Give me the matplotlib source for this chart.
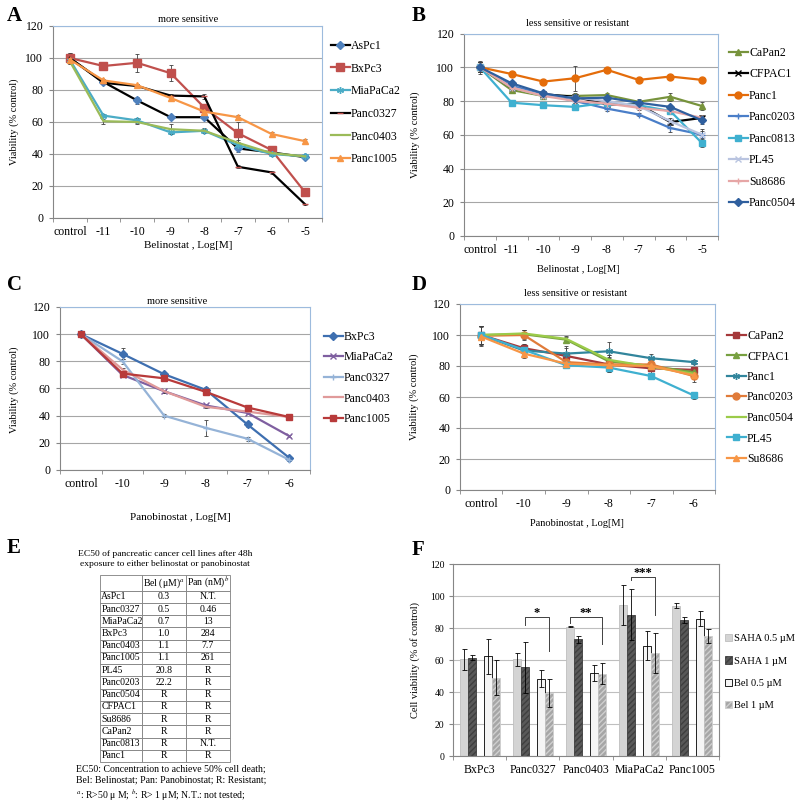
"""Six-panel HDAC inhibitor viability figure (A-D curves, E EC50 table, F bars)."""

import matplotlib
matplotlib.use("Agg")
import matplotlib.pyplot as plt
import numpy as np

plt.rcParams["font.family"] = ["Liberation Serif", "DejaVu Serif"]
plt.rcParams["mathtext.fontset"] = "stix"

W, H = 800, 807

# ---- Panel A: belinostat, more sensitive ----
bel_doses = ["control", "-11", "-10", "-9", "-8", "-7", "-6", "-5"]
a_names = ["AsPc1", "BxPc3", "MiaPaCa2", "Panc0327", "Panc0403", "Panc1005"]
a_values = [
    [100, 85, 73.5, 63, 63, 43.5, 41, 38],
    [100, 95, 97, 90.5, 69, 53, 42.5, 16],
    [99, 64, 61, 53.5, 54.5, 45.5, 40, 38.5],
    [100, 84.5, 82.5, 76.5, 76, 32, 28.5, 8.5],
    [98, 60.5, 60, 55.5, 54.5, 47, 40.5, 38.5],
    [99, 86, 83, 75, 66.5, 63, 52.5, 48],
]
a_errors = [
    [3, 1.5, 2, 1, 1, 2, 1, 1],
    [2, 1.5, 5.5, 5, 2, 7, 1.5, 2.5],
    [2, 1, 1.5, 1, 1, 2, 1, 1],
    [3, 1, 1, 1, 1.5, 1, 1, 0.5],
    [2, 1.5, 1.5, 3, 1.5, 1.5, 1, 1],
    [3, 1, 1, 1.5, 1, 1.5, 1, 1.5],
]

# ---- Panel B: belinostat, less sensitive or resistant ----
b_names = ["CaPan2", "CFPAC1", "Panc1", "Panc0203", "Panc0813", "PL45", "Su8686", "Panc0504"]
b_values = [
    [100, 86.5, 83, 83, 83.5, 79.5, 82.5, 77],
    [100, 88, 84, 82.5, 78, 78, 67.5, 70],
    [100, 96, 91.5, 93.5, 98.5, 92.5, 94.5, 92.5],
    [100, 89, 84, 80, 75.5, 72, 64, 60],
    [100, 79, 77.5, 76.5, 79, 77.5, 74, 55],
    [100, 88, 83, 82, 80, 77, 68, 60],
    [100, 88, 83, 80, 78.5, 76, 74, 70],
    [100, 90.5, 84.5, 81.5, 82, 79, 76.5, 68.5],
]
b_errors = [
    [3, 1.5, 1.5, 1.5, 1.5, 1.5, 2.5, 2.5],
    [3, 1, 1, 1, 1, 1, 1.5, 1],
    [4, 1, 1, 7.5, 1.5, 1, 1, 1],
    [3, 1, 1, 1, 1.5, 1, 2.5, 2],
    [3, 1, 1, 1, 1, 1, 1.5, 2.5],
    [3, 1, 1, 2, 1, 1, 2, 3.5],
    [3, 1, 1, 1, 1, 1.5, 1, 1.5],
    [3, 1, 1, 1, 1, 1, 1, 2],
]

# ---- Panel C: panobinostat, more sensitive ----
pan_doses = ["control", "-10", "-9", "-8", "-7", "-6"]
c_names = ["BxPc3", "MiaPaCa2", "Panc0327", "Panc0403", "Panc1005"]
c_values = [
    [100, 85.5, 70.5, 59, 33.5, 9],
    [100, 70, 58, 47.5, 42, 25],
    [100, 80, 40, 31, 23, 7.5],
    [100, 74, 58, 46.5, 43, 39],
    [100, 71, 67.5, 57.5, 46, 39],
]
c_errors = [
    [1, 4, 1, 2, 1.5, 1],
    [1, 1, 1, 1, 1, 0.5],
    [1, 2, 1, 6, 1.5, 1],
    [1, 1, 1, 1, 1, 1],
    [1, 1, 1, 1, 1, 1],
]

# ---- Panel D: panobinostat, less sensitive or resistant ----
d_names = ["CaPan2", "CFPAC1", "Panc1", "Panc0203", "Panc0504", "PL45", "Su8686"]
d_values = [
    [100, 91.5, 86.5, 81, 78.5, 77.5],
    [100, 100.5, 97, 83, 80, 76],
    [100, 90, 88, 89.5, 85, 82.5],
    [99.5, 100, 82.5, 81, 81, 73.5],
    [100, 101, 97.5, 84, 79.5, 75],
    [100, 90.5, 80.5, 79, 73.5, 61],
    [99, 88, 81.5, 80.5, 80, 74],
]
d_errors = [
    [6, 3, 5, 5, 3, 2],
    [6, 3, 2, 4, 3, 2],
    [6, 4, 5, 6, 2.5, 1.5],
    [6, 3.5, 4, 4, 3, 4],
    [6, 2, 2, 3, 2, 2],
    [6, 3, 2, 3, 2, 2.5],
    [6, 3, 3, 3, 2, 2],
]

# ---- Panel E: EC50 table ----
e_lines = ["AsPc1", "Panc0327", "MiaPaCa2", "BxPc3", "Panc0403", "Panc1005", "PL45",
           "Panc0203", "Panc0504", "CFPAC1", "Su8686", "CaPan2", "Panc0813", "Panc1"]
e_bel = ["0.3", "0.5", "0.7", "1.0", "1.1", "1.1", "20.8", "22.2", "R", "R", "R", "R", "R", "R"]
e_pan = ["N.T.", "0.46", "13", "284", "7.7", "261", "R", "R", "R", "R", "R", "R", "N.T.", "R"]
e_header = ["", "Bel (μM)$^{a}$", "Pan (nM)$^{b}$"]

# ---- Panel F: SAHA vs belinostat bars ----
f_lines = ["BxPc3", "Panc0327", "Panc0403", "MiaPaCa2", "Panc1005"]
f_labels = ["SAHA 0.5 µM", "SAHA 1 µM", "Bel 0.5 µM", "Bel 1 µM"]
f_values = [
    [60.5, 60.5, 81, 94.5, 94],
    [61.5, 55.5, 73, 88.5, 85],
    [62.5, 48.5, 52, 69, 86],
    [49, 39.5, 51.5, 64.5, 75],
]
f_errors = [
    [6.5, 4, 0.3, 12.5, 1.5],
    [1.5, 16, 2, 16, 2],
    [11, 5.5, 5, 9, 4.5],
    [11, 9, 6.5, 12.5, 4.5],
]
# significance brackets: group, left bar, right bar, top, left foot, right foot, mark
f_sig = [
    (1, 1, 3, 87, 82, 66, "*"),
    (2, 0, 3, 87, 83, 70, "**"),
    (3, 1, 3, 112, 110, 88, "***"),
]


def px_axes(fig, x0, y0, x1, y1):
    return fig.add_axes([x0 / W, 1 - y1 / H, (x1 - x0) / W, (y1 - y0) / H])


def fx(x):
    return x / W


def fy(y):
    return 1 - y / H


def style_excel_axes(ax, ncat):
    ax.set_xlim(-0.5, ncat - 0.5)
    ax.set_ylim(0, 120)
    ax.set_yticks(np.arange(0, 121, 20))
    ax.set_xticks(np.arange(ncat))
    ax.set_xticks(np.arange(ncat + 1) - 0.5, minor=True)
    ax.tick_params(axis="x", which="major", length=0, pad=6, labelsize=8.5)
    ax.tick_params(axis="x", which="minor", length=3, color="#868686")
    ax.tick_params(axis="y", length=3, color="#868686", labelsize=8.5, pad=4)
    ax.grid(axis="y", color="#A6A6A6", linewidth=0.8)
    ax.set_axisbelow(True)
    for side in ("left", "bottom"):
        ax.spines[side].set_color("#868686")
    for side in ("top", "right"):
        ax.spines[side].set_color("#9DBBDD")


def draw_curves(ax, values, errors, names, styles):
    x = np.arange(len(values[0]))
    handles = []
    for vals, errs, name, st in zip(values, errors, names, styles):
        ax.errorbar(x, vals, yerr=errs, fmt="none", ecolor="#404040",
                    elinewidth=0.6, capsize=1.5, capthick=0.6, zorder=2)
        (h,) = ax.plot(x, vals, color=st[0], marker=st[1], markerfacecolor=st[2],
                       markeredgecolor=st[2], markersize=st[3], linewidth=1.6,
                       label=name, zorder=3)
        handles.append(h)
    return handles


def curve_legend(ax, handles, x, y, spacing):
    ax.legend(handles=handles, loc="upper left", bbox_to_anchor=(fx(x), fy(y)),
              bbox_transform=ax.figure.transFigure, frameon=False, fontsize=8.5,
              handlelength=1.6, handletextpad=0.1, borderaxespad=0, borderpad=0,
              labelspacing=spacing, numpoints=1)


asterisk = (6, 2, 0)

fig = plt.figure(figsize=(W / 100, H / 100), dpi=100)

# ---------- A ----------
ax = px_axes(fig, 53, 26, 322, 218)
style_excel_axes(ax, len(bel_doses))
ax.set_xticklabels(bel_doses)
a_styles = [("black", "D", "#4F81BD", 4), ("#C0504D", "s", "#C0504D", 5.5),
            ("#4BACC6", asterisk, "#4BACC6", 5), ("black", "_", "#C0504D", 5),
            ("#9BBB59", "None", "#9BBB59", 4), ("#F79646", "^", "#F79646", 5)]
hs = draw_curves(ax, a_values, a_errors, a_names, a_styles)
curve_legend(ax, hs, 331, 40, 0.9)
fig.text(fx(188), fy(20), "more sensitive", ha="center", va="center", fontsize=7.5)
fig.text(fx(188), fy(246), "Belinostat , Log[M]", ha="center", va="center", fontsize=8)
fig.text(fx(14), fy(122), "Viability (% control)", rotation=90, ha="center", va="center", fontsize=7.5)
fig.text(fx(7), fy(16), "A", ha="left", va="center", fontsize=15, fontweight="bold")

# ---------- B ----------
ax = px_axes(fig, 464, 33.5, 718, 236)
style_excel_axes(ax, len(bel_doses))
ax.set_xticklabels(bel_doses)
b_styles = [("#77933C", "^", "#77933C", 4.5), ("black", "x", "black", 4.5),
            ("#E46C0A", "o", "#E46C0A", 5), ("#4A7EC8", "+", "#4A7EC8", 5),
            ("#3FB0D0", "s", "#3FB0D0", 5), ("#B9C4E0", "x", "#B9C4E0", 4.5),
            ("#E6A6A6", "+", "#E6A6A6", 5), ("#2F5F9E", "D", "#2F5F9E", 4)]
hs = draw_curves(ax, b_values, b_errors, b_names, b_styles)
curve_legend(ax, hs, 729, 47, 0.8)
fig.text(fx(578), fy(24), "less sensitive or resistant", ha="center", va="center", fontsize=7.5)
fig.text(fx(578), fy(270), "Belinostat , Log[M]", ha="center", va="center", fontsize=7.5)
fig.text(fx(415), fy(135), "Viability (% control)", rotation=90, ha="center", va="center", fontsize=7.5)
fig.text(fx(412), fy(16), "B", ha="left", va="center", fontsize=15, fontweight="bold")

# ---------- C ----------
ax = px_axes(fig, 60, 307, 310, 470)
style_excel_axes(ax, len(pan_doses))
ax.set_xticklabels(pan_doses)
c_styles = [("#3E6FB0", "D", "#3E6FB0", 4), ("#7F5FA0", "x", "#7F5FA0", 4.5),
            ("#95B3D7", "+", "#95B3D7", 5), ("#E09A9A", "None", "#E09A9A", 4),
            ("#B83A3A", "s", "#B83A3A", 5)]
hs = draw_curves(ax, c_values, c_errors, c_names, c_styles)
curve_legend(ax, hs, 324, 331, 0.72)
fig.text(fx(177), fy(302), "more sensitive", ha="center", va="center", fontsize=7.5)
fig.text(fx(180), fy(517), "Panobinostat , Log[M]", ha="center", va="center", fontsize=8)
fig.text(fx(14), fy(390), "Viability (% control)", rotation=90, ha="center", va="center", fontsize=7.5)
fig.text(fx(7), fy(285), "C", ha="left", va="center", fontsize=15, fontweight="bold")

# ---------- D ----------
ax = px_axes(fig, 460, 304, 715, 490)
style_excel_axes(ax, len(pan_doses))
ax.set_xticklabels(pan_doses)
d_styles = [("#A5383A", "s", "#A5383A", 4.5), ("#77A040", "^", "#77A040", 4.5),
            ("#31859C", asterisk, "#31859C", 5), ("#E07B39", "o", "#E07B39", 5),
            ("#9BCB49", "None", "#9BCB49", 4), ("#3FB0D0", "s", "#3FB0D0", 5),
            ("#F79646", "^", "#F79646", 5)]
hs = draw_curves(ax, d_values, d_errors, d_names, d_styles)
curve_legend(ax, hs, 727, 330, 0.72)
fig.text(fx(576), fy(294), "less sensitive or resistant", ha="center", va="center", fontsize=7.5)
fig.text(fx(577), fy(523), "Panobinostat , Log[M]", ha="center", va="center", fontsize=7.5)
fig.text(fx(414), fy(397), "Viability (% control)", rotation=90, ha="center", va="center", fontsize=7.5)
fig.text(fx(412), fy(285), "D", ha="left", va="center", fontsize=15, fontweight="bold")

# ---------- E ----------
fig.text(fx(7), fy(548), "E", ha="left", va="center", fontsize=15, fontweight="bold")
fig.text(fx(165), fy(559), "EC50 of pancreatic cancer cell lines after 48h\n"
         "exposure to either belinostat or panobinostat",
         ha="center", va="center", fontsize=6.8, linespacing=1.3)
ax = px_axes(fig, 100, 575, 230, 762)
ax.axis("off")
cell_text = [[n, b, p] for n, b, p in zip(e_lines, e_bel, e_pan)]
tbl = ax.table(cellText=cell_text, colLabels=e_header, colWidths=[41.7, 44, 44.3],
               cellLoc="center", colLoc="center", bbox=[0, 0, 1, 1])
tbl.auto_set_font_size(False)
tbl.set_fontsize(7)
for (r, c), cell in tbl.get_celld().items():
    cell.set_edgecolor("#7F7F7F")
    cell.set_linewidth(0.6)
    cell.set_height(15.7 if r == 0 else 12.26)
    cell.PAD = 0.03
    if c == 0 and r > 0:
        cell.get_text().set_horizontalalignment("left")
fig.text(fx(76), fy(784), "EC50: Concentration to achieve 50% cell death;\n"
         "Bel: Belinostat; Pan: Panobinostat; R: Resistant;\n"
         "$^{a}$: R>50 μ M; $^{b}$: R> 1 μM; N.T.: not tested;",
         ha="left", va="center", fontsize=7, linespacing=1.25)

# ---------- F ----------
ax = px_axes(fig, 453, 564.3, 719, 756)
fig.text(fx(412), fy(550), "F", ha="left", va="center", fontsize=15, fontweight="bold")
x = np.arange(len(f_lines))
offsets = [-0.3, -0.15, 0.15, 0.3]
f_face = ["#D4D4D4", "#595959", "#F5F5F5", "#A6A6A6"]
f_edge = ["#BFBFBF", "#3F3F3F", "black", "#CFCFCF"]
f_hatch = [None, "//////", None, "//////"]
for vals, errs, off, fc, ec, hat, lab in zip(f_values, f_errors, offsets, f_face,
                                              f_edge, f_hatch, f_labels):
    ax.bar(x + off, vals, width=0.15, color=fc, edgecolor=ec, hatch=hat,
           linewidth=0.6, label=lab, zorder=2)
    ax.errorbar(x + off, vals, yerr=errs, fmt="none", ecolor="black",
                elinewidth=0.6, capsize=1.8, capthick=0.6, zorder=3)
for grp, lb, rb, top, lfoot, rfoot, mark in f_sig:
    left = x[grp] + offsets[lb]
    right = x[grp] + offsets[rb]
    ax.plot([left, left, right, right], [lfoot, top, top, rfoot],
            color="#404040", lw=0.7, zorder=4)
    ax.text((left + right) / 2, top - 1, mark, ha="center", va="bottom",
            fontsize=9, fontweight="bold")
ax.set_xlim(-0.5, len(f_lines) - 0.5)
ax.set_ylim(0, 120)
ax.set_yticks(np.arange(0, 121, 20))
ax.set_xticks(x)
ax.set_xticklabels(f_lines)
ax.set_xticks(np.arange(len(f_lines) + 1) - 0.5, minor=True)
ax.tick_params(axis="x", which="major", length=0, pad=6, labelsize=8.5)
ax.tick_params(axis="x", which="minor", length=3, color="#868686")
ax.tick_params(axis="y", length=3, color="#868686", labelsize=7, pad=3)
ax.grid(axis="y", color="#BFBFBF", linewidth=0.8)
ax.set_axisbelow(True)
for sp in ax.spines.values():
    sp.set_color("#868686")
fig.text(fx(415), fy(660), "Cell viability (% of control)", rotation=90,
         ha="center", va="center", fontsize=7.5)
ax.legend(loc="upper left", bbox_to_anchor=(fx(725), fy(634)),
          bbox_transform=fig.transFigure, frameon=False, fontsize=7.5,
          handlelength=0.7, handleheight=0.7, handletextpad=0.2,
          borderaxespad=0, borderpad=0, labelspacing=1.25)

fig.savefig("out.png", dpi=100)
